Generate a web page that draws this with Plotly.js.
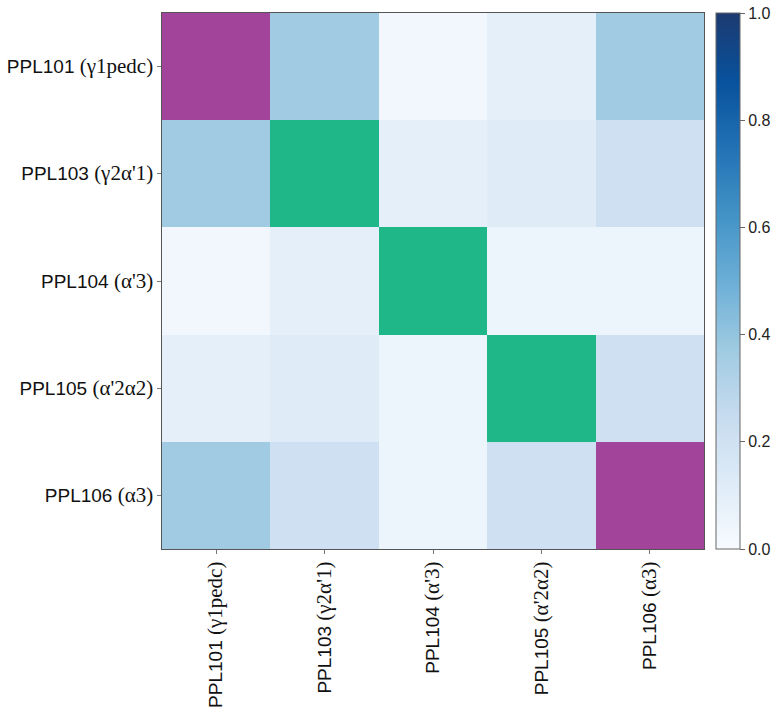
<!DOCTYPE html>
<html>
<head>
<meta charset="utf-8">
<script src="https://cdn.plot.ly/plotly-3.0.1.min.js"></script>
<style>html,body{margin:0;padding:0;background:#fff;}#chart{width:776px;height:716px;}</style>
</head>
<body>
<div id="chart"></div>
<script>
// Category names and their (serif) subtype labels
const names = ["PPL101", "PPL103", "PPL104", "PPL105", "PPL106"];
const subtypes = ["γ1pedc", "γ2α'1", "α'3", "α'2α2", "α3"];

// Off-diagonal similarity values (symmetric); diagonal drawn separately
const row101 = [null, 0.37, 0.03, 0.09, 0.37];
const row103 = [0.37, null, 0.09, 0.12, 0.21];
const row104 = [0.03, 0.09, null, 0.05, 0.05];
const row105 = [0.09, 0.12, 0.05, null, 0.21];
const row106 = [0.37, 0.21, 0.05, 0.21, null];

// Diagonal highlight group per category: "purple" or "green"
const diagGroup = ["purple", "green", "green", "green", "purple"];

const blues = [
  [0.0, "#f7fbff"], [0.125, "#deebf7"], [0.25, "#c6dbef"], [0.375, "#9ecae1"],
  [0.5, "#6baed6"], [0.625, "#4292c6"], [0.75, "#2171b5"], [0.875, "#08519c"], [1.0, "#1c3a70"]
];

const cats = names.map((n, i) => n + " (" + subtypes[i] + ")");
const tickText = names.map((n, i) => n + ' <span style="font-family:\'Liberation Serif\', \'DejaVu Serif\', serif;font-size:21px">(' + subtypes[i] + ')</span>');
const zMain = [row101, row103, row104, row105, row106];

function diagZ(group) {
  return cats.map((_, r) => cats.map((_, c) => (r === c && diagGroup[r] === group) ? 1 : null));
}

const traces = [
  {
    type: "heatmap", x: cats, y: cats, z: zMain,
    colorscale: blues, zmin: 0, zmax: 1, xgap: 0, ygap: 0,
    colorbar: {
      x: 1.0221, xanchor: "left", xpad: 0, y: 0.5, yanchor: "middle", len: 1, ypad: 0,
      thickness: 24, outlinewidth: 1, outlinecolor: "#666",
      ticks: "outside", ticklen: 5, tickcolor: "#666",
      tickvals: [0, 0.2, 0.4, 0.6, 0.8, 1.0], ticktext: ["0.0", "0.2", "0.4", "0.6", "0.8", "1.0"],
      tickfont: {family: "Liberation Sans, Arial, sans-serif", size: 16, color: "#222"}
    }
  },
  {
    type: "heatmap", x: cats, y: cats, z: diagZ("purple"),
    colorscale: [[0, "#a1449a"], [1, "#a1449a"]], showscale: false, hoverinfo: "skip"
  },
  {
    type: "heatmap", x: cats, y: cats, z: diagZ("green"),
    colorscale: [[0, "#1fb787"], [1, "#1fb787"]], showscale: false, hoverinfo: "skip"
  }
];

const axisCommon = {
  type: "category", showgrid: false, zeroline: false,
  showline: true, linecolor: "#555", linewidth: 1, mirror: true,
  ticks: "outside", ticklen: 4, tickcolor: "#777",
  tickvals: cats, ticktext: tickText,
  tickfont: {family: "Liberation Sans, Arial, sans-serif", size: 19, color: "#111"}
};

const layout = {
  width: 776, height: 716,
  margin: {l: 162, r: 72, t: 13, b: 167, autoexpand: false},
  paper_bgcolor: "#fff", plot_bgcolor: "#fff",
  xaxis: Object.assign({}, axisCommon, {tickangle: -90}),
  yaxis: Object.assign({}, axisCommon, {autorange: "reversed"}),
  showlegend: false
};

Plotly.newPlot("chart", traces, layout, {displayModeBar: false, staticPlot: true});
</script>
</body>
</html>
